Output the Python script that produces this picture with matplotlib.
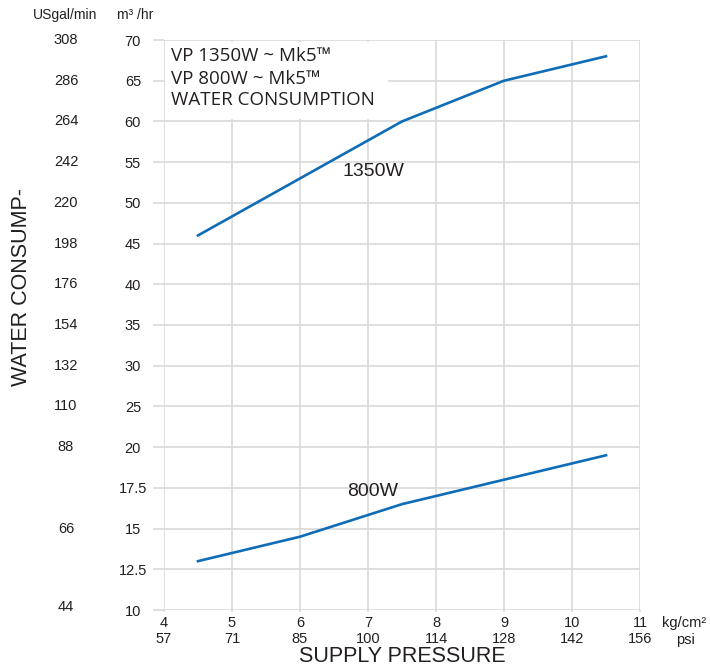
import numpy as np
import matplotlib
matplotlib.use("Agg")
import matplotlib.pyplot as plt
from matplotlib.patches import Rectangle

# data
pressure_kg = [4.5, 6, 7.5, 9, 10.5]
flow_1350 = [46, 53, 60, 65, 68]
flow_800 = [13, 14.5, 16.5, 18, 19.5]

x_ticks = [4, 5, 6, 7, 8, 9, 10, 11]
psi_labels = ["57", "71", "85", "100", "114", "128", "142", "156"]
m3_ticks = [10, 12.5, 15, 17.5, 20, 25, 30, 35, 40, 45, 50, 55, 60, 65, 70]
usgal_ticks = [10.2, 15, 20, 25, 30, 35, 40, 45, 50, 55, 60, 65, 70]
usgal_labels = ["44", "66", "88", "110", "132", "154", "176", "198", "220",
                "242", "264", "286", "308"]

plt.rcParams['font.family'] = ['Liberation Sans', 'DejaVu Sans']
GRID = '#d9d9d9'
BLUE = '#0f6cb6'
TXT = '#231f20'


# the y axis is stretched below 20 (2.5 per step instead of 5)
def fwd(v):
    v = np.asarray(v, dtype=float)
    return np.where(v < 20, (v - 10) / 2.5, 4 + (v - 20) / 5)


def inv(p):
    p = np.asarray(p, dtype=float)
    return np.where(p < 4, 10 + p * 2.5, 20 + (p - 4) * 5)


fig = plt.figure(figsize=(7.1, 6.68), dpi=100)
ax = fig.add_axes([164 / 710, 58 / 668, 476 / 710, 570 / 668])
ax.set_yscale('function', functions=(fwd, inv))
ax.set_xlim(4, 11)
ax.set_ylim(10, 70)

for s in ax.spines.values():
    s.set_visible(False)
ax.set_axisbelow(True)
ax.grid(True, color=GRID, linewidth=1.2)

ax.set_xticks(x_ticks)
ax.set_xticklabels([f"{k}\n{p}" for k, p in zip(x_ticks, psi_labels)],
                   fontsize=10.5, color=TXT, linespacing=1.15)
ax.tick_params(axis='x', length=1.5, width=1.2, color=GRID, pad=3)

ax.set_yticks(m3_ticks)
ax.set_yticklabels([f"{v:g}" for v in m3_ticks], fontsize=10.5, color=TXT)
ax.tick_params(axis='y', length=8, width=1.2, color=GRID, pad=14.4)
for lab in ax.get_yticklabels():
    lab.set_horizontalalignment('center')

ytr = ax.get_yaxis_transform()
for v, lab in zip(usgal_ticks, usgal_labels):
    ax.text(-0.206, v, lab, transform=ytr, ha='center', va='center',
            fontsize=10.5, color=TXT, clip_on=False)

ax.plot(pressure_kg, flow_1350, color=BLUE, linewidth=1.9, zorder=3)
ax.plot(pressure_kg, flow_800, color=BLUE, linewidth=1.9, zorder=3)

ax.text(6.62, 53.8, "1350W", fontsize=14, color=TXT, ha='left', va='center')
ax.text(6.69, 17.3, "800W", fontsize=14, color=TXT, ha='left', va='center')

# white caption box in the upper left
ax.add_patch(Rectangle((4.02, 60.3), 3.28, 9.5, facecolor='white',
                       edgecolor='none', zorder=2))
box_font = ['Open Sans', 'DejaVu Sans']
for yf, line in zip([0.972, 0.932, 0.894],
                    ["VP 1350W ~ Mk5\u2122", "VP 800W ~ Mk5\u2122",
                     "WATER CONSUMPTION"]):
    ax.text(0.0147, yf, line, transform=ax.transAxes, fontsize=13.5,
            family=box_font, color=TXT, ha='left', va='center', zorder=4)

fig.text(33 / 710, 1 - 15 / 668, "USgal/min", fontsize=10, color=TXT,
         ha='left', va='center')
fig.text(117 / 710, 1 - 15 / 668, "m\u00b3 /hr", fontsize=10, color=TXT,
         ha='left', va='center')
fig.text(662 / 710, 1 - 623 / 668, "kg/cm\u00b2", fontsize=10.5, color=TXT,
         ha='left', va='center')
fig.text(676 / 710, 1 - 640 / 668, "psi", fontsize=10.5, color=TXT,
         ha='left', va='center')
fig.text(402 / 710, 1 - 656 / 668, "SUPPLY PRESSURE", fontsize=15.5,
         color=TXT, ha='center', va='center')
fig.text(22 / 710, 1 - 287 / 668, "WATER CONSUMP-", fontsize=15.5,
         color=TXT, ha='center', va='center', rotation=90)

fig.savefig('out.png', dpi=100)
